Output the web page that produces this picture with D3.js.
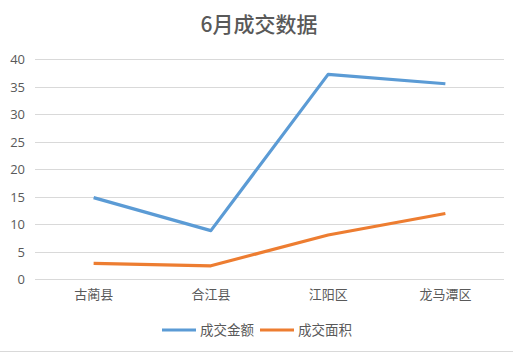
<!DOCTYPE html>
<html><head><meta charset="utf-8">
<script src="https://cdn.jsdelivr.net/npm/d3@7"></script>
<style>body{margin:0;background:#fff}svg{display:block}</style>
</head><body>
<script>
const categories = ["古蔺县", "合江县", "江阳区", "龙马潭区"];
const amount = [14.8, 8.8, 37.2, 35.5];   // 成交金额
const area = [2.85, 2.4, 8.0, 11.9];      // 成交面积
const seriesNames = ["成交金额", "成交面积"];
const yTicks = [0, 5, 10, 15, 20, 25, 30, 35, 40];
const titleText = "6月成交数据";

const W = 513, H = 356;
const colors = ["#5B9BD5", "#ED7D31"];
const svg = d3.select("body").append("svg").attr("width", W).attr("height", H);

const x = d3.scaleBand().domain(categories).range([35, 504]);
const y = d3.scaleLinear().domain([0, 40]).range([279, 59]);

svg.append("text").attr("x", 259).attr("y", 32).attr("text-anchor", "middle")
  .attr("font-family", "'Noto Sans CJK SC', sans-serif").attr("font-size", 21)
  .attr("font-weight", 500).attr("fill", "#595959").text(titleText);

// gridlines
svg.append("g").selectAll("line").data(yTicks).join("line")
  .attr("x1", 35).attr("x2", 504)
  .attr("y1", d => Math.round(y(d)) + 0.5).attr("y2", d => Math.round(y(d)) + 0.5)
  .attr("stroke", "#d9d9d9").attr("stroke-width", 1);

// y axis labels
const yAxis = d3.axisLeft(y).tickValues(yTicks).tickSize(0).tickPadding(0);
const gy = svg.append("g").attr("transform", "translate(25,0)").call(yAxis);
gy.select(".domain").remove();
gy.selectAll("text").attr("font-family", "'Open Sans', 'Noto Sans', sans-serif")
  .attr("font-size", 13).attr("fill", "#595959").attr("dy", "0.35em");

// x axis labels
const xAxis = d3.axisBottom(x).tickSize(0).tickPadding(0);
const gx = svg.append("g").attr("transform", "translate(0,290)").call(xAxis);
gx.select(".domain").remove();
gx.selectAll("text").attr("font-family", "'Noto Sans CJK SC', sans-serif")
  .attr("font-size", 13).attr("fill", "#595959").attr("dy", "0.71em");

const line = d3.line().x((d, i) => x(categories[i]) + x.bandwidth() / 2).y(d => y(d));
[amount, area].forEach((s, k) => {
  svg.append("path").datum(s).attr("d", line).attr("fill", "none")
    .attr("stroke", colors[k]).attr("stroke-width", 3.2).attr("stroke-linejoin", "round");
});

// legend
const legendX = [162, 260];
seriesNames.forEach((n, k) => {
  const g = svg.append("g").attr("transform", `translate(${legendX[k]},330)`);
  g.append("line").attr("x1", 0).attr("x2", 34).attr("y1", 0).attr("y2", 0)
    .attr("stroke", colors[k]).attr("stroke-width", 3);
  g.append("text").attr("x", 38).attr("y", 0).attr("dy", "0.35em")
    .attr("font-family", "'Noto Sans CJK SC', sans-serif").attr("font-size", 13.5)
    .attr("fill", "#595959").text(n);
});

// bottom border
svg.append("line").attr("x1", 0).attr("x2", W).attr("y1", 351.5).attr("y2", 351.5)
  .attr("stroke", "#d9d9d9").attr("stroke-width", 1);
</script>
</body></html>
